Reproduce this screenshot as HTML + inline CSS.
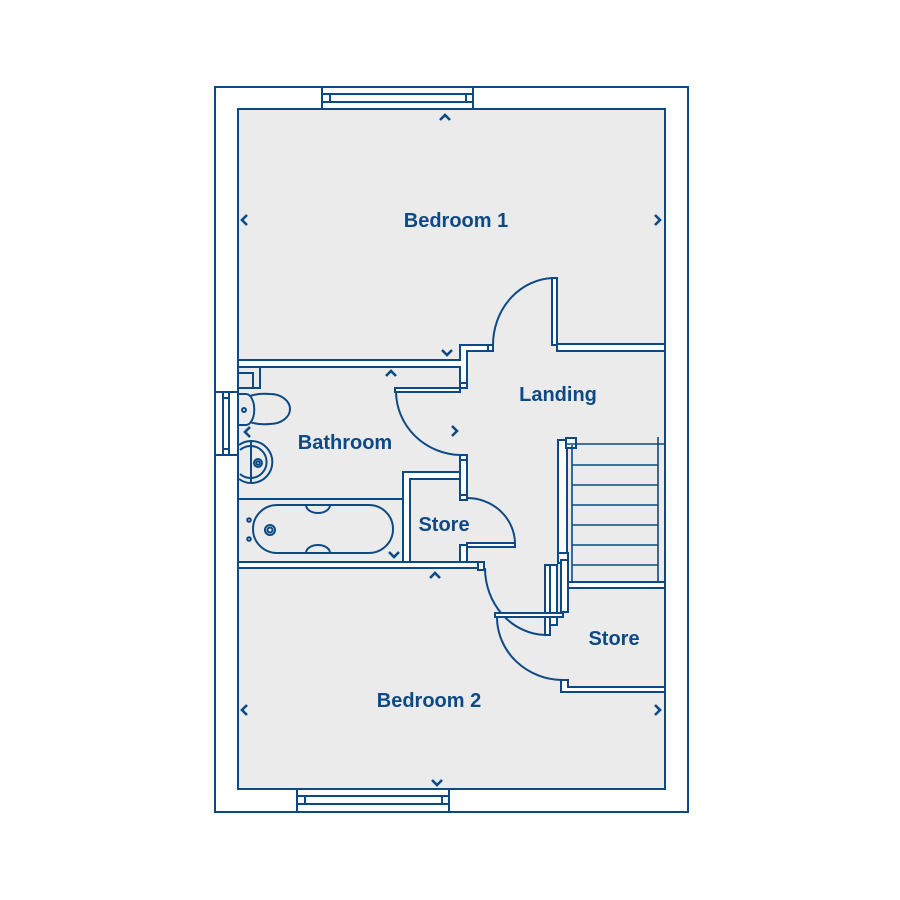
<!DOCTYPE html>
<html><head><meta charset="utf-8"><style>
html,body{margin:0;padding:0;background:#fff;}
svg{display:block}
text{font-family:"Liberation Sans","DejaVu Sans",sans-serif;font-weight:bold;fill:#0d4a85;font-size:20px;text-anchor:middle}
</style></head><body>
<svg width="900" height="900" viewBox="0 0 900 900" xmlns="http://www.w3.org/2000/svg">
<g stroke="#0d4a85" stroke-width="2" fill="none">
<rect x="215" y="87" width="473" height="725" fill="#fff"/>
<rect x="238" y="109" width="427" height="680" fill="#ebebeb"/>
<rect x="322" y="87" width="151" height="22" fill="#fff"/>
<rect x="322" y="94" width="151" height="8"/>
<rect x="330" y="94" width="136" height="8"/>
<rect x="297" y="789" width="152" height="23" fill="#fff"/>
<rect x="297" y="796" width="152" height="8"/>
<rect x="305" y="796" width="137" height="8"/>
<rect x="215" y="392" width="23" height="63" fill="#fff"/>
<rect x="223" y="392" width="6" height="63"/>
<line x1="223" y1="398" x2="229" y2="398"/><line x1="223" y1="449" x2="229" y2="449"/>

<g fill="#fff">
<path d="M238 360 H460 V345 H493 V351 H467 V388 H460 V367 H238 Z"/>
<rect x="488" y="345" width="5" height="6"/>
<path d="M557 344 H665 V351 H557 Z"/>
<rect x="552" y="278" width="5" height="67"/>
<path d="M460 455 H467 V500 H460 Z"/>
<rect x="460" y="383" width="7" height="5"/>
<rect x="460" y="455" width="7" height="5"/>
<path d="M403 472 H460 V479 H410 V562 H403 Z"/>
<rect x="460" y="545" width="7" height="17"/>
<rect x="460" y="495" width="7" height="5"/>
<path d="M238 562 H483 V568 H238 Z"/>
<rect x="478" y="562" width="6" height="8"/>
<rect x="558" y="440" width="9" height="115"/>
<rect x="558" y="553" width="10" height="10"/>
<rect x="561" y="560" width="7" height="52"/>
<path d="M568 582 H665 V588 H568 Z"/>
<rect x="550" y="565" width="7" height="60"/>
<path d="M561 680 H568 V687 H665 V692 H561 Z"/>
</g>
<rect x="566" y="438" width="10" height="10" fill="#fff"/>
<g stroke-width="1.6">
<line x1="567" y1="444" x2="665" y2="444"/>
<line x1="572" y1="465" x2="658" y2="465"/>
<line x1="572" y1="485" x2="658" y2="485"/>
<line x1="572" y1="505" x2="658" y2="505"/>
<line x1="572" y1="525" x2="658" y2="525"/>
<line x1="572" y1="545" x2="658" y2="545"/>
<line x1="572" y1="565" x2="658" y2="565"/>
<line x1="572" y1="445" x2="572" y2="582"/>
<line x1="658" y1="437" x2="658" y2="582"/>
</g>
<path d="M493 345 A62 67 0 0 1 553 278"/>
<rect x="395" y="388" width="65" height="4" fill="#fff"/>
<path d="M396 392 A66 64 0 0 0 460 455"/>
<rect x="467" y="543" width="48" height="4" fill="#fff"/>
<path d="M467 498 A48 46 0 0 1 515 543"/>
<rect x="545" y="565" width="5" height="70" fill="#fff"/>
<path d="M485 568 A62 67 0 0 0 545 635"/>
<rect x="495" y="613" width="68" height="4" fill="#fff"/>
<path d="M497 617 A66 63 0 0 0 562 680"/>

<line x1="238" y1="499" x2="403" y2="499"/>
<rect x="253" y="505" width="140" height="48" rx="24"/>
<path d="M306 505 A12 8 0 0 0 330 505"/>
<path d="M306 553 A12 8 0 0 1 330 553"/>
<circle cx="270" cy="530" r="5"/><circle cx="270" cy="530" r="2.5"/>
<circle cx="249" cy="520" r="1.8"/><circle cx="249" cy="539" r="1.8"/>
<path d="M238 367 H260 V388 H238"/>
<path d="M238 373 H253 V388"/>
<path d="M238 394 H246 A8 15 0 0 1 246 425 H238"/>
<path d="M250 396 Q258 393 270 394 A20 15 0 0 1 270 424 Q258 425 250 422"/>
<circle cx="244" cy="410" r="2"/>
<path d="M239 445 A21 21 0 1 1 239 479"/>
<path d="M240 450 A16 16 0 1 1 240 474"/>
<line x1="251" y1="442" x2="251" y2="483"/>
<circle cx="258" cy="463" r="4"/><circle cx="258" cy="463" r="1.8"/>
</g>
<g stroke="#0d4a85" stroke-width="2.6" fill="none">
<path d="M440 120 L445 115 L450 120"/>
<path d="M247 215 L242 220 L247 225"/>
<path d="M655 215 L660 220 L655 225"/>
<path d="M442 350 L447 355 L452 350"/>
<path d="M386 376 L391 371 L396 376"/>
<path d="M250 427 L245 432 L250 437"/>
<path d="M452 426 L457 431 L452 436"/>
<path d="M389 552 L394 557 L399 552"/>
<path d="M430 578 L435 573 L440 578"/>
<path d="M247 705 L242 710 L247 715"/>
<path d="M655 705 L660 710 L655 715"/>
<path d="M432 780 L437 785 L442 780"/>
</g>
<text x="456" y="227">Bedroom 1</text>
<text x="558" y="401">Landing</text>
<text x="345" y="449">Bathroom</text>
<text x="444" y="531">Store</text>
<text x="614" y="645">Store</text>
<text x="429" y="707">Bedroom 2</text>
</svg>
</body></html>
